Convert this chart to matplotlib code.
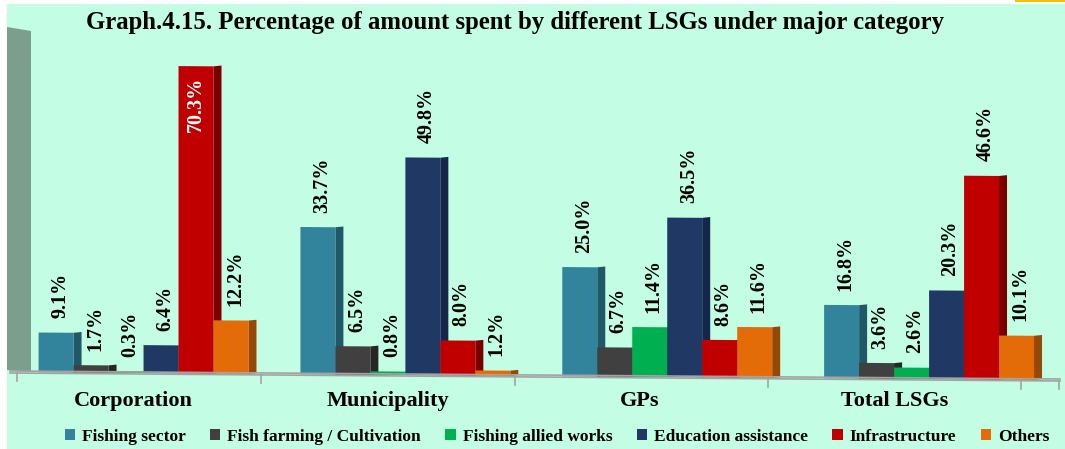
import matplotlib.pyplot as plt
from matplotlib.patches import Patch, Polygon, Rectangle
from matplotlib.transforms import Affine2D
from matplotlib.lines import Line2D

plt.rcParams['font.family'] = ['Liberation Serif', 'DejaVu Serif']
plt.rcParams['font.weight'] = 'bold'

GROUPS = ["Corporation", "Municipality", "GPs", "Total LSGs"]
SERIES = ["Fishing sector", "Fish farming / Cultivation", "Fishing allied works",
          "Education assistance", "Infrastructure", "Others"]

fishing_sector = [9.1, 33.7, 25.0, 16.8]
fish_farming = [1.7, 6.5, 6.7, 3.6]
allied_works = [0.3, 0.8, 11.4, 2.6]
education = [6.4, 49.8, 36.5, 20.3]
infrastructure = [70.3, 8.0, 8.6, 46.6]
others = [12.2, 1.2, 11.6, 10.1]

VALUES = [fishing_sector, fish_farming, allied_works, education, infrastructure, others]

FACE = ["#31849b", "#404040", "#00b050", "#1f3864", "#c00000", "#e36c09"]
SIDE = ["#215868", "#262626", "#007a3d", "#14264a", "#7a0000", "#974806"]

BG = "#c3fde3"
W, H = 1065, 449


def px(x, y):
    # pixel position (origin top-left) -> figure fraction
    return x / W, 1 - y / H


fig = plt.figure(figsize=(W / 100, H / 100), dpi=100)
fig.patch.set_facecolor("white")
# mint panel
fig.add_artist(Rectangle((7 / W, 0), 1 - 7 / W, 1 - 4 / H, transform=fig.transFigure,
                         facecolor=BG, edgecolor="none", zorder=0))
fig.add_artist(Rectangle((1015 / W, 1 - 2 / H), 50 / W, 2 / H, transform=fig.transFigure,
                         facecolor="#f5c000", edgecolor="none", zorder=1))
# back wall on the left
fig.add_artist(Polygon([px(7, 27), px(31, 31), px(31, 372), px(7, 370)], closed=True,
                       transform=fig.transFigure, facecolor="#7b9e8d",
                       edgecolor="none", zorder=1))

# floor
for dy in (0, 2):
    (x0, y0), (x1, y1) = px(10, 371 + dy), px(1060, 379 + dy)
    fig.add_artist(Line2D([x0, x1], [y0, y1], transform=fig.transFigure,
                          color="#a3a3a3", lw=1.2, zorder=1))
for tx in (17, 261, 515, 768, 1021, 1059):
    ty = 373 + 8 * (tx - 10) / 1050
    (x0, y0), (x1, y1) = px(tx, ty), px(tx, ty + 8)
    fig.add_artist(Line2D([x0, x1], [y0, y1], transform=fig.transFigure,
                          color="#a3a3a3", lw=1.2, zorder=1))

ax = fig.add_axes([10 / W, 77 / H, 1050 / W, 365 / H])
ax.set_xlim(-0.51, 3.50)
ax.set_ylim(0, 83.5)
ax.axis("off")
ax.patch.set_alpha(0)

skew = ax.transData + Affine2D().skew_deg(0, -0.44)

bw = 0.1336
depth = 0.0305
n = len(SERIES)

for i, vals in enumerate(VALUES):
    for g, v in enumerate(vals):
        x = g + (i - (n - 1) / 2) * bw
        xr = x + bw / 2
        z = 2 + i * 2
        ax.add_patch(Polygon([(xr, 0), (xr + depth, 0.2), (xr + depth, v + 0.2), (xr, v)],
                             closed=True, facecolor=SIDE[i], edgecolor="none",
                             transform=skew, zorder=z, clip_on=False))
        ax.bar(x, max(v, 0.45), width=bw, color=FACE[i], edgecolor="none",
               transform=skew, zorder=z + 1, clip_on=False)
        label = f"{v:.1f}%"
        if v > 60:
            ax.text(x, v - 2.3, label, rotation=90, ha="center", va="top",
                    color="white", fontsize=14.5, fontweight="bold",
                    transform=skew, zorder=20)
        else:
            ax.text(x + depth / 2, v + 3.3, label, rotation=90, ha="center",
                    va="bottom", color="black", fontsize=14.5, fontweight="bold",
                    transform=skew, zorder=20, clip_on=False)

label_x = [133, 388, 640, 895]
for name, lx in zip(GROUPS, label_x):
    fig.text(*px(lx, 401), name, ha="center", va="center", fontsize=16,
             fontweight="bold")

fig.text(*px(515, 22),
         "Graph.4.15. Percentage of amount spent by different LSGs under major category",
         ha="center", va="center", fontsize=17.8, fontweight="bold")

handles = [Patch(facecolor=c, edgecolor="none") for c in FACE]
fig.legend(handles, SERIES, loc="center", bbox_to_anchor=px(557, 437),
           ncol=6, frameon=False, handlelength=0.6, handleheight=0.6,
           handletextpad=0.4, columnspacing=1.4, borderaxespad=0,
           prop={"weight": "bold", "size": 12.5})

fig.savefig("out.png", dpi=100, facecolor=fig.get_facecolor())
